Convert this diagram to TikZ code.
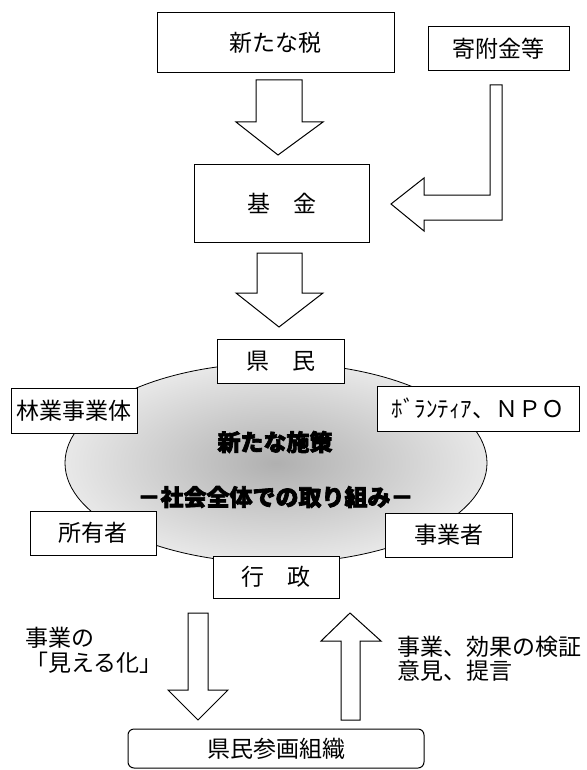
\documentclass[tikz,border=0pt]{standalone}
\usepackage{fontspec}
\setmainfont{Noto Sans CJK JP}
\newfontfamily\heavy[FakeBold=3]{Noto Sans CJK JP}
\begin{document}
\begin{tikzpicture}[x=1pt,y=-1pt,
  lbl/.style={font=\fontsize{23}{27}\selectfont},
  box/.style={draw, line width=1pt, fill=white, inner sep=0pt, lbl},
  blk/.style={draw, line width=1pt, fill=white, line join=miter},
  ttl/.style={font=\fontsize{23}{27}\selectfont\heavy\bfseries}]
\useasboundingbox (0,0) rectangle (586,770);
% ellipse
\shade[inner color=gray!62, outer color=gray!18] (276,463) ellipse [x radius=211pt, y radius=100pt];
\draw[line width=0.8pt] (276,463) ellipse [x radius=211pt, y radius=100pt];
\node[ttl] (t1) at (275,442) {新たな施策};
\node[ttl] (t2) at (275.5,497) {－社会全体での取り組み－};
% boxes
\node[box, minimum width=237pt, minimum height=60pt] (tax) at (275.5,43) {新たな税};
\node[box, minimum width=141pt, minimum height=44pt] (kifu) at (498.5,49) {寄附金等};
\node[box, minimum width=175pt, minimum height=77pt] (kikin) at (281.5,203.5) {基　金};
\node[box, minimum width=127pt, minimum height=44pt] (kenmin) at (280.5,361) {県　民};
\node[box, minimum width=126pt, minimum height=45pt] (ringyo) at (74,410.5) {林業事業体};
\node[box, minimum width=202pt, minimum height=45pt] (vol) at (478,408.5) {ﾎﾞﾗﾝﾃｨｱ、ＮＰＯ};
\node[box, minimum width=126pt, minimum height=44pt] (shoyu) at (93,533) {所有者};
\node[box, minimum width=127pt, minimum height=44pt] (jigyo) at (448.5,535) {事業者};
\node[box, minimum width=126pt, minimum height=42pt] (gyosei) at (276,577) {行　政};
\node[box, rounded corners=6pt, minimum width=296pt, minimum height=39pt] (sankaku) at (276,748.5) {県民参画組織};
% block arrows
\draw[blk] (256,80) -- (302,80) -- (302,122) -- (323,122) -- (278,155) -- (236,122) -- (256,122) -- cycle;
\draw[blk] (257,253) -- (302,253) -- (302,293) -- (323,293) -- (279,327) -- (236,293) -- (257,293) -- cycle;
\draw[blk] (490,85) -- (502,85) -- (502,220) -- (424,220) -- (424,231) -- (391,204) -- (424,178) -- (424,195) -- (490,195) -- cycle;
\draw[blk] (188,613) -- (208,613) -- (208,690) -- (228,690) -- (198,720) -- (168,690) -- (188,690) -- cycle;
\draw[blk] (341,720) -- (360,720) -- (360,641) -- (381,641) -- (350,613) -- (321,641) -- (341,641) -- cycle;
% side texts
\node[lbl, font=\fontsize{23}{25}\selectfont, align=left, anchor=west, inner sep=0pt] (l1) at (25,650.5) {事業の\\「見える化」};
\node[lbl, font=\fontsize{23}{24}\selectfont, align=left, anchor=west, inner sep=0pt] (l2) at (397,659) {事業、効果の検証\\意見、提言};
\end{tikzpicture}
\end{document}
